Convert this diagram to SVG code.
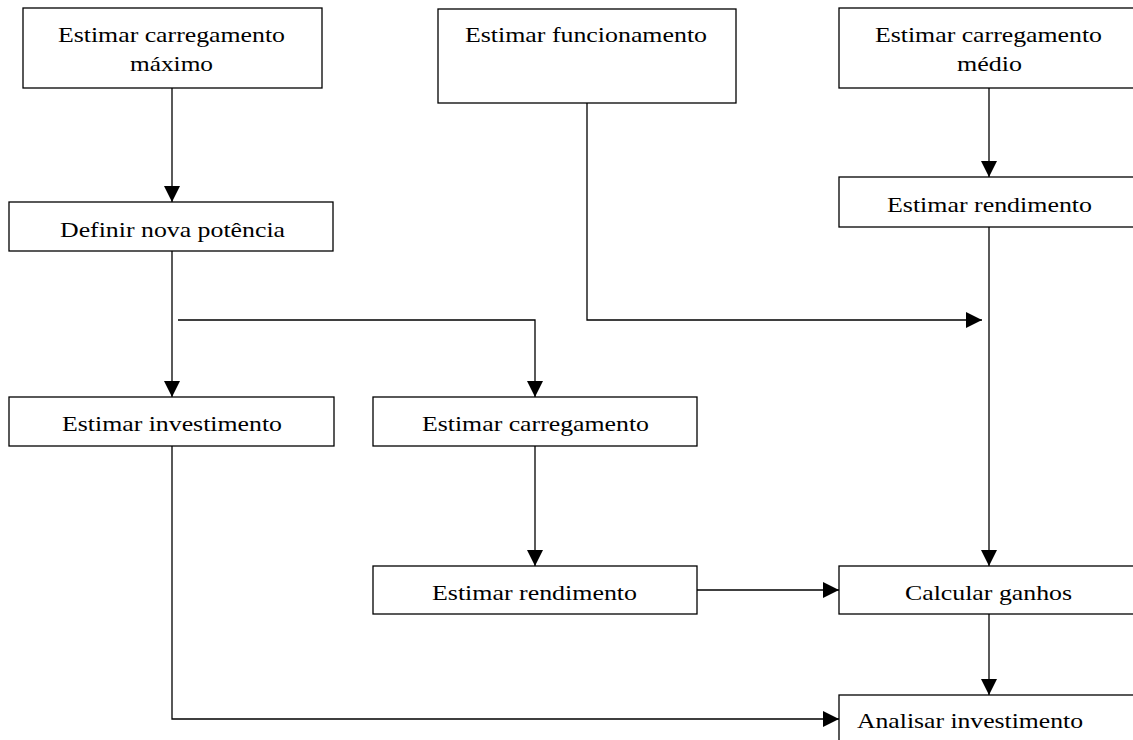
<svg xmlns="http://www.w3.org/2000/svg" width="1133" height="740" viewBox="0 0 1133 740">
<style>
.box{fill:#fff;stroke:#000;stroke-width:1.3}
.t{font-family:"Liberation Serif","Times New Roman",serif;font-size:21px;fill:#000;text-anchor:middle}
.tl{font-family:"Liberation Serif","Times New Roman",serif;font-size:21px;fill:#000}
.c{fill:none;stroke:#000;stroke-width:1.3}
</style>
<defs>
<marker id="ah" viewBox="0 0 16 16" refX="16" refY="8" markerWidth="16" markerHeight="16" markerUnits="userSpaceOnUse" orient="auto">
<path d="M0,0 L16,8 L0,16 Z" fill="#000"/>
</marker>
</defs>
<rect width="1133" height="740" fill="#fff"/>
<g id="connectors">
<line class="c" x1="172" y1="88" x2="172" y2="202" marker-end="url(#ah)"/>
<line class="c" x1="989" y1="88" x2="989" y2="177" marker-end="url(#ah)"/>
<polyline class="c" points="587,103 587,320 982,320" marker-end="url(#ah)"/>
<line class="c" x1="989" y1="227" x2="989" y2="566" marker-end="url(#ah)"/>
<line class="c" x1="172" y1="251" x2="172" y2="397" marker-end="url(#ah)"/>
<polyline class="c" points="178,320 535,320 535,397" marker-end="url(#ah)"/>
<line class="c" x1="535" y1="446" x2="535" y2="566" marker-end="url(#ah)"/>
<line class="c" x1="697" y1="590" x2="839" y2="590" marker-end="url(#ah)"/>
<line class="c" x1="989" y1="614" x2="989" y2="695" marker-end="url(#ah)"/>
<polyline class="c" points="172,446 172,719 839,719" marker-end="url(#ah)"/>
</g>
<g id="n1"><rect class="box" x="23" y="8" width="299" height="80"/><text class="t" x="171.5" y="42" textLength="227" lengthAdjust="spacingAndGlyphs">Estimar carregamento</text><text class="t" x="171.5" y="71" textLength="83" lengthAdjust="spacingAndGlyphs">máximo</text></g>
<g id="n2"><rect class="box" x="438" y="9" width="298" height="94"/><text class="t" x="586" y="42" textLength="242" lengthAdjust="spacingAndGlyphs">Estimar funcionamento</text></g>
<g id="n3"><rect class="box" x="839" y="8" width="300" height="80"/><text class="t" x="988.5" y="42" textLength="227" lengthAdjust="spacingAndGlyphs">Estimar carregamento</text><text class="t" x="989.5" y="71" textLength="65" lengthAdjust="spacingAndGlyphs">médio</text></g>
<g id="n4"><rect class="box" x="9" y="202" width="324" height="49"/><text class="t" x="172.5" y="237" textLength="225" lengthAdjust="spacingAndGlyphs">Definir nova potência</text></g>
<g id="n5"><rect class="box" x="839" y="177" width="300" height="50"/><text class="t" x="989.5" y="212" textLength="205" lengthAdjust="spacingAndGlyphs">Estimar rendimento</text></g>
<g id="n6"><rect class="box" x="9" y="397" width="325" height="49"/><text class="t" x="172" y="431" textLength="220" lengthAdjust="spacingAndGlyphs">Estimar investimento</text></g>
<g id="n7"><rect class="box" x="373" y="397" width="324" height="49"/><text class="t" x="535.5" y="431" textLength="227" lengthAdjust="spacingAndGlyphs">Estimar carregamento</text></g>
<g id="n8"><rect class="box" x="373" y="566" width="324" height="48"/><text class="t" x="534.5" y="600" textLength="205" lengthAdjust="spacingAndGlyphs">Estimar rendimento</text></g>
<g id="n9"><rect class="box" x="839" y="566" width="300" height="48"/><text class="t" x="988.5" y="600" textLength="167" lengthAdjust="spacingAndGlyphs">Calcular ganhos</text></g>
<g id="n10"><rect class="box" x="839" y="695" width="300" height="60"/><text class="tl" x="857" y="728" textLength="226" lengthAdjust="spacingAndGlyphs">Analisar investimento</text></g>
</svg>
